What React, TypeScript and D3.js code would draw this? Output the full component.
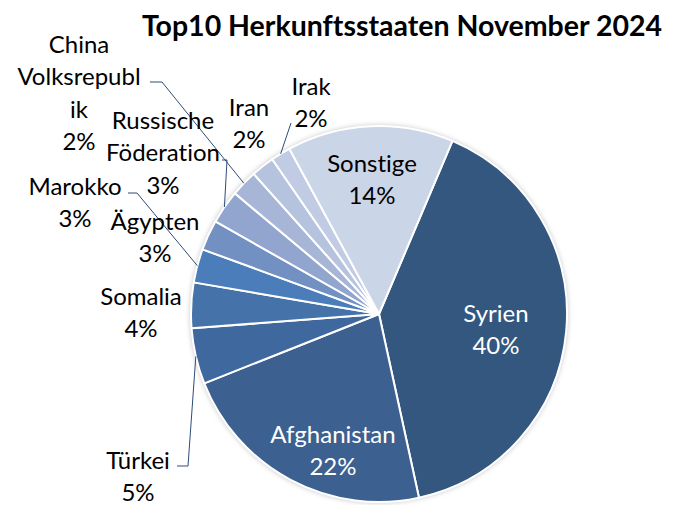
import React from 'react';
import * as d3 from 'd3';

// ---- data ----
const title = 'Top10 Herkunftsstaaten November 2024';
const categories = ['Syrien', 'Afghanistan', 'Türkei', 'Somalia', 'Marokko', 'Ägypten', 'Russische Föderation', 'China Volksrepublik', 'Iran', 'Irak', 'Sonstige'];
const values = [40.2, 22.4, 4.8, 3.9, 2.9, 2.6, 2.9, 2.3, 2.0, 1.7, 14.3];
const labelLines = [['Syrien'], ['Afghanistan'], ['Türkei'], ['Somalia'], ['Marokko'], ['Ägypten'], ['Russische', 'Föderation'], ['China', 'Volksrepubl', 'ik'], ['Iran'], ['Irak'], ['Sonstige']];
const colors = ['#33577F', '#3C6191', '#3F699E', '#4572A9', '#4A7DBA', '#7290C2', '#91A5CF', '#A7B6D7', '#B6C3DF', '#C1CCE4', '#CBD5E8'];

// ---- layout ----
const W = 688, H = 505;
const cx = 379, cy = 314, R = 188;
const startDeg = 23;
const lineH = 32.5;
const FONT = 'Lato, "Open Sans", sans-serif';
const labelLayout: Record<string, { x: number; y: number; color: string; leader?: [number, number][] }> = {
  'Syrien': { x: 496, y: 312, color: '#fff' },
  'Afghanistan': { x: 333, y: 433, color: '#fff' },
  'Türkei': { x: 138, y: 459, color: '#000', leader: [[177, 466], [188, 466]] },
  'Somalia': { x: 141, y: 295, color: '#000' },
  'Marokko': { x: 75, y: 185, color: '#000', leader: [[128, 193], [137, 193]] },
  'Ägypten': { x: 155, y: 220, color: '#000' },
  'Russische Föderation': { x: 163, y: 119, color: '#000', leader: [[222, 160], [227, 160]] },
  'China Volksrepublik': { x: 79, y: 43, color: '#000', leader: [[150, 82], [162, 82]] },
  'Iran': { x: 249, y: 106, color: '#000' },
  'Irak': { x: 311, y: 85, color: '#000', leader: [[291, 123]] },
  'Sonstige': { x: 372, y: 162, color: '#000' },
};

export default function App() {
  const total = d3.sum(values);
  const pct = d3.format('.0%');
  const a0 = (startDeg * Math.PI) / 180;
  const pie = d3.pie<number>().sort(null).value((d) => d).startAngle(a0).endAngle(a0 + 2 * Math.PI);
  const arcs = pie(values);
  const arc = d3.arc<d3.PieArcDatum<number>>().innerRadius(0).outerRadius(R);
  const edge = (d: d3.PieArcDatum<number>): [number, number] => {
    const m = (d.startAngle + d.endAngle) / 2;
    return [R * Math.sin(m), -R * Math.cos(m)];
  };
  const line = d3.line();

  return (
    <svg
      width={W}
      height={H}
      style={{ position: 'absolute', left: 0, top: 0, background: '#fff', fontVariantLigatures: 'none' }}
      fontFamily={FONT}
    >
      <defs>
        <filter id="glow" x="-20%" y="-20%" width="140%" height="140%">
          <feGaussianBlur stdDeviation="2.5" />
        </filter>
      </defs>
      <text x={402} y={25} textAnchor="middle" dominantBaseline="central" fontSize={28.5} fontWeight={700} fill="#000">
        {title}
      </text>
      <g transform={`translate(${cx},${cy})`}>
        <circle r={R + 1} fill="#c8c8c8" filter="url(#glow)" />
        {arcs.map((d, i) => (
          <path key={categories[i]} d={arc(d) || ''} fill={colors[i]} stroke="#fff" strokeWidth={2} strokeLinejoin="round" />
        ))}
      </g>
      {arcs.map((d, i) => {
        const lay = labelLayout[categories[i]];
        if (!lay.leader) return null;
        const [ex, ey] = edge(d);
        const pts: [number, number][] = [...lay.leader, [cx + ex, cy + ey]];
        return <path key={'l' + i} d={line(pts) || ''} fill="none" stroke="#2E4C78" strokeWidth={1} />;
      })}
      {arcs.map((d, i) => {
        const lay = labelLayout[categories[i]];
        const lines = [...labelLines[i], pct(values[i] / total)];
        return (
          <text key={'t' + i} textAnchor="middle" fontSize={24} fill={lay.color}>
            {lines.map((s, j) => (
              <tspan key={j} x={lay.x} y={lay.y + j * lineH} dominantBaseline="central">
                {s}
              </tspan>
            ))}
          </text>
        );
      })}
    </svg>
  );
}
